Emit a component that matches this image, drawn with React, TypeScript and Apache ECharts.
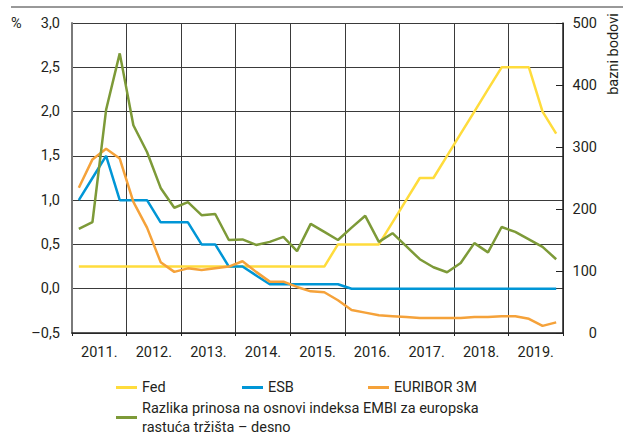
import React, { useEffect, useRef } from "react";
import * as echarts from "echarts";

const years = ["2011.", "2012.", "2013.", "2014.", "2015.", "2016.", "2017.", "2018.", "2019."];
const quarterNames = ["Q1", "Q2", "Q3", "Q4"];
const quarters = years.flatMap((y) => quarterNames.map((q) => y + q));

const fed = [
  0.25, 0.25, 0.25, 0.25, 0.25, 0.25, 0.25, 0.25, 0.25, 0.25, 0.25, 0.25,
  0.25, 0.25, 0.25, 0.25, 0.25, 0.25, 0.25, 0.5, 0.5, 0.5, 0.5, 0.75,
  1.0, 1.25, 1.25, 1.5, 1.75, 2.0, 2.25, 2.5, 2.5, 2.5, 2.0, 1.75,
];
const esb = [
  1.0, 1.25, 1.5, 1.0, 1.0, 1.0, 0.75, 0.75, 0.75, 0.5, 0.5, 0.25,
  0.25, 0.15, 0.05, 0.05, 0.05, 0.05, 0.05, 0.05, 0, 0, 0, 0,
  0, 0, 0, 0, 0, 0, 0, 0, 0, 0, 0, 0,
];
const euribor = [
  1.14, 1.46, 1.58, 1.47, 0.98, 0.69, 0.3, 0.19, 0.23, 0.21, 0.23, 0.25,
  0.31, 0.19, 0.08, 0.08, 0.02, -0.03, -0.04, -0.13, -0.24, -0.27, -0.3, -0.31,
  -0.32, -0.33, -0.33, -0.33, -0.33, -0.32, -0.32, -0.31, -0.31, -0.34, -0.42, -0.38,
];
const embi = [
  168, 179, 360, 451, 335, 292, 234, 202, 211, 190, 192, 150,
  151, 142, 147, 155, 132, 176, 163, 150, 170, 189, 147, 161,
  140, 119, 106, 98, 113, 145, 130, 171, 163, 151, 139, 119,
];

const seriesNames = [
  "Fed",
  "ESB",
  "EURIBOR 3M",
  "Razlika prinosa na osnovi indeksa EMBI za europska\nrastuća tržišta – desno",
];
const colors = ["#FFDC3C", "#0096D6", "#F5A23A", "#7D9A38"];

const FONT = "Roboto, 'Liberation Sans', sans-serif";
const TXT = "#231f20";
const FS = 14.5;

export default function App() {
  const ref = useRef<HTMLDivElement>(null);
  useEffect(() => {
    const chart = echarts.init(ref.current!, undefined, { renderer: "svg" });
    const legendBase = {
      orient: "horizontal" as const,
      padding: 0,
      itemWidth: 21,
      itemHeight: 3,
      icon: "rect",
      selectedMode: false,
      textStyle: { fontFamily: FONT, fontSize: FS, color: TXT, lineHeight: 19 },
    };
    chart.setOption({
      animation: false,
      textStyle: { fontFamily: FONT },
      grid: { left: 72, right: 60, top: 23, bottom: 102, containLabel: false },
      legend: [
        { ...legendBase, data: [seriesNames[0]], left: 116, top: 378 },
        { ...legendBase, data: [seriesNames[1]], left: 242, top: 378 },
        { ...legendBase, data: [seriesNames[2]], left: 368, top: 378 },
        {
          ...legendBase,
          data: [seriesNames[3]],
          left: 116,
          top: 389,
          textStyle: { ...legendBase.textStyle, padding: [19, 0, 0, 0] },
        },
      ],
      xAxis: [
        {
          type: "category",
          data: quarters,
          boundaryGap: true,
          show: false,
        },
        {
          type: "category",
          data: years,
          boundaryGap: true,
          position: "bottom",
          axisLine: { show: true, lineStyle: { color: "#222", width: 1.5 } },
          axisTick: { show: true, length: 3, interval: 0, lineStyle: { color: "#222" } },
          axisLabel: { fontFamily: FONT, fontSize: FS, color: TXT, margin: 12, interval: 0 },
          splitLine: { show: true, interval: 0, lineStyle: { color: "#3a3a3a", width: 1 } },
        },
      ],
      yAxis: [
        {
          type: "value",
          min: -0.5,
          max: 3,
          interval: 0.5,
          position: "left",
          axisLine: { show: true, lineStyle: { color: "#7a7a7a", width: 2 } },
          axisTick: { show: false },
          axisLabel: {
            fontFamily: FONT,
            fontSize: FS,
            color: TXT,
            margin: 12,
            formatter: (v: number) => (v < 0 ? "–" : "") + Math.abs(v).toFixed(1).replace(".", ","),
          },
          splitLine: { show: true, lineStyle: { color: "#3a3a3a", width: 1 } },
        },
        {
          type: "value",
          min: 0,
          max: 500,
          interval: 100,
          position: "right",
          axisLine: { show: true, lineStyle: { color: "#222", width: 1.5 } },
          axisTick: { show: true, inside: true, length: 7, lineStyle: { color: "#222" } },
          axisLabel: { fontFamily: FONT, fontSize: FS, color: TXT, margin: 34, align: "right" },
          splitLine: { show: false },
        },
      ],
      graphic: [
        {
          type: "line",
          shape: { x1: 11, y1: 7, x2: 623, y2: 7 },
          style: { stroke: "#333", lineWidth: 1 },
        },
        {
          type: "text",
          x: 11,
          y: 23,
          style: { text: "%", fontFamily: FONT, fontSize: FS, fill: TXT, align: "left", verticalAlign: "middle" },
        },
        {
          type: "text",
          x: 613,
          y: 54,
          rotation: Math.PI / 2,
          style: { text: "bazni bodovi", fontFamily: FONT, fontSize: FS, fill: TXT, align: "center", verticalAlign: "middle" },
        },
      ],
      series: [
        { name: seriesNames[0], data: fed, color: colors[0] },
        { name: seriesNames[1], data: esb, color: colors[1] },
        { name: seriesNames[2], data: euribor, color: colors[2] },
        { name: seriesNames[3], data: embi, color: colors[3], yAxisIndex: 1 },
      ].map((s) => ({
        type: "line",
        xAxisIndex: 0,
        yAxisIndex: 0,
        showSymbol: false,
        symbol: "none",
        lineStyle: { width: 2.5, color: s.color },
        itemStyle: { color: s.color },
        ...s,
      })),
    });
    return () => chart.dispose();
  }, []);
  return <div ref={ref} style={{ position: "absolute", left: 0, top: 0, width: 623, height: 435 }} />;
}
